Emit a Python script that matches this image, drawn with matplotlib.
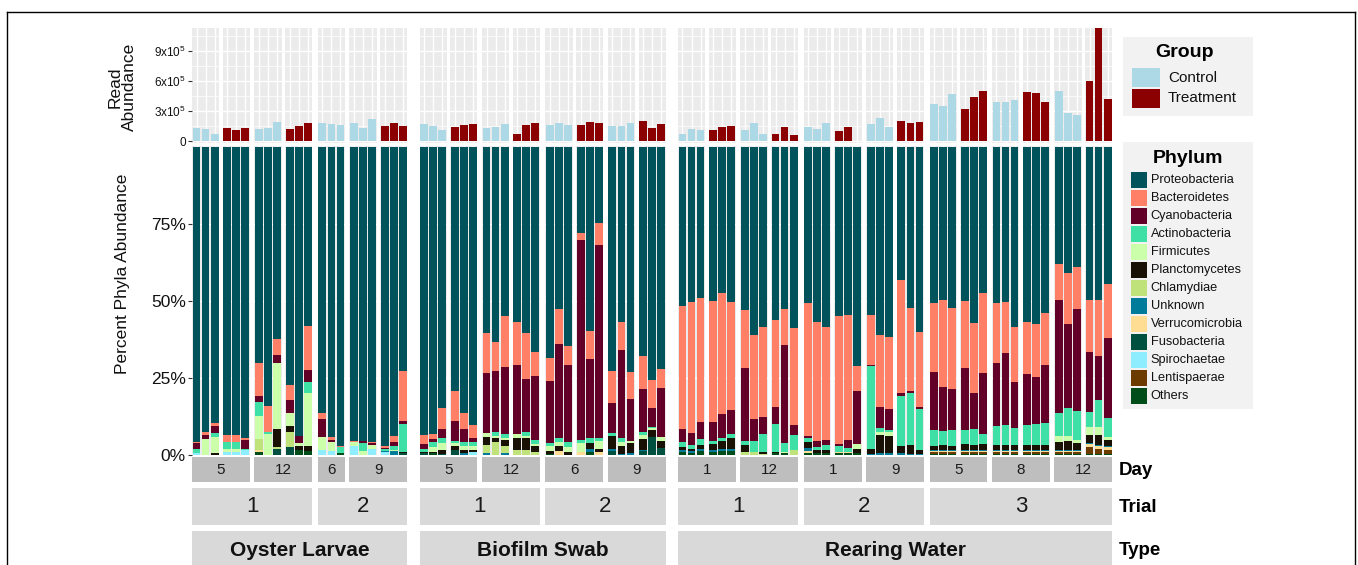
import matplotlib
matplotlib.use('Agg')
import matplotlib.pyplot as plt
from matplotlib.patches import Rectangle
from matplotlib.lines import Line2D
import numpy as np

plt.rcParams['font.family'] = ['Liberation Sans', 'DejaVu Sans']
plt.rcParams['mathtext.fontset'] = 'custom'
plt.rcParams['mathtext.rm'] = 'Liberation Sans'
plt.rcParams['mathtext.it'] = 'Liberation Sans:italic'
plt.rcParams['mathtext.bf'] = 'Liberation Sans:bold'

# ---------------- data ----------------
facet_type = ["Oyster Larvae"] * 4 + ["Biofilm Swab"] * 4 + ["Rearing Water"] * 7
facet_trial = [1, 1, 2, 2, 1, 1, 2, 2, 1, 1, 2, 2, 3, 3, 3]
facet_day = [5, 12, 6, 9, 5, 12, 6, 9, 1, 12, 1, 9, 5, 8, 12]
facet_groups = [["Control", "Treatment"], ["Control", "Treatment"], ["Control"], ["Control", "Treatment"],
                ["Control", "Treatment"], ["Control", "Treatment"], ["Control", "Treatment"], ["Control", "Treatment"],
                ["Control", "Treatment"], ["Control", "Treatment"], ["Control", "Treatment"], ["Control", "Treatment"],
                ["Control", "Treatment"], ["Control", "Treatment"], ["Control", "Treatment"]]
reps_per_group = 3

# read abundance (x 10^4)
read_oyster = [12.7, 11.7, 7.0, 13.3, 10.7, 13.3, 12.0, 13.3, 19.0, 12.0, 14.7, 17.7,
               18.0, 16.7, 16.0, 17.7, 13.3, 22.0, 15.0, 17.7, 15.0]
read_biofilm = [17.0, 15.0, 11.0, 14.0, 15.7, 16.7, 13.3, 14.3, 17.3, 6.7, 16.3, 17.7,
                16.3, 18.3, 16.0, 16.3, 18.7, 17.7, 15.3, 15.3, 17.7, 20.0, 13.0, 17.0]
read_water = [7.0, 12.0, 10.7, 11.0, 14.0, 15.0, 11.3, 18.3, 7.0, 7.3, 14.0, 6.3,
              13.7, 12.3, 18.3, 10.0, 14.0, 0.3, 17.3, 22.7, 14.0, 20.3, 18.3, 19.0,
              37.0, 35.0, 47.0, 32.0, 44.0, 50.3, 39.3, 39.3, 41.3, 49.3, 48.0, 39.3,
              50.3, 28.0, 26.0, 60.0, 125.0, 42.0]

# phylum percentages, samples in order: oyster (21), biofilm (24), water (42)
proteobacteria = [96.0, 92.5, 89.7, 93.8, 93.8, 94.6, 70.1, 84.1, 63.0, 77.3, 93.5, 58.2, 86.2, 94.1, 97.2,
                  95.3, 95.3, 95.5, 97.3, 93.8, 72.5,
                  93.4, 92.9, 84.7, 79.2, 86.0, 90.2, 60.4, 63.4, 54.8, 56.8, 60.4, 66.7,
                  68.5, 52.6, 64.5, 27.3, 59.1, 24.3, 72.6, 56.6, 73.1, 67.5, 75.1, 71.6,
                  51.5, 49.9, 48.8, 49.8, 47.2, 49.9, 52.6, 60.7, 58.2, 55.8, 52.1, 58.5,
                  50.3, 56.3, 57.8, 54.4, 54.2, 70.7, 54.0, 60.7, 61.2, 43.2, 51.9, 60.0,
                  50.3, 49.0, 51.7, 49.5, 56.6, 46.8, 50.3, 50.1, 58.2, 56.8, 57.2, 53.5,
                  37.6, 40.3, 38.7, 49.5, 49.3, 44.4]
bacteroidetes = [0.3, 1.1, 0.8, 2.1, 2.1, 0.5, 10.6, 8.2, 5.2, 4.7, 0.0, 14.1, 1.8, 0.8, 0.3,
                 0.5, 0.0, 0.5, 0.5, 2.1, 16.5,
                 2.9, 1.8, 6.6, 9.7, 5.4, 4.1, 13.0, 9.5, 16.5, 14.1, 14.9, 7.6,
                 7.4, 11.3, 6.2, 2.4, 9.1, 7.1, 10.6, 9.1, 8.8, 10.9, 9.0, 6.0,
                 39.7, 42.4, 40.0, 39.0, 39.2, 35.0, 18.9, 27.0, 28.9, 28.0, 11.6, 31.2,
                 42.9, 38.4, 36.6, 41.1, 40.0, 8.3, 16.0, 23.3, 23.3, 36.8, 26.5, 24.7,
                 22.3, 27.9, 26.0, 21.4, 22.2, 26.0, 19.5, 16.5, 17.6, 16.9, 17.3, 17.1,
                 11.8, 16.2, 13.3, 17.0, 18.1, 17.3]
cyanobacteria = [1.8, 1.2, 2.5, 0.0, 0.0, 2.9, 2.2, 0.0, 2.6, 4.3, 2.4, 4.0, 6.0, 0.5, 0.0,
                 0.0, 0.8, 0.5, 0.3, 1.1, 0.8,
                 1.7, 0.9, 3.1, 6.3, 4.0, 1.3, 19.5, 19.7, 22.0, 22.5, 17.3, 21.0,
                 20.2, 30.6, 25.2, 64.0, 25.4, 62.4, 9.7, 28.7, 13.4, 13.7, 6.0, 16.0,
                 4.3, 3.8, 5.3, 6.2, 7.6, 7.9, 23.3, 7.3, 5.5, 5.7, 31.7, 3.1,
                 0.8, 1.8, 1.6, 0.9, 2.6, 17.1, 0.5, 6.7, 6.5, 0.9, 0.9, 0.5,
                 18.8, 14.1, 13.3, 20.0, 11.7, 19.5, 20.6, 23.3, 14.9, 16.5, 15.0, 18.7,
                 36.4, 26.8, 33.0, 19.3, 14.3, 26.0]
actinobacteria = [1.4, 0.0, 1.1, 2.2, 2.2, 0.5, 4.5, 0.8, 0.0, 0.0, 0.0, 3.6, 0.0, 0.0, 2.0,
                  0.0, 2.7, 0.0, 0.6, 1.4, 9.0,
                  0.8, 1.6, 1.6, 0.8, 1.6, 1.4, 0.0, 1.2, 1.1, 0.0, 1.3, 1.1,
                  1.2, 1.2, 1.5, 0.8, 1.4, 1.0, 1.1, 1.0, 0.0, 1.0, 0.5, 0.0,
                  1.6, 1.4, 1.9, 0.8, 0.9, 1.1, 1.3, 3.6, 6.0, 9.0, 2.9, 5.1,
                  1.3, 1.1, 1.4, 1.8, 1.4, 0.0, 26.5, 1.1, 0.8, 16.2, 16.8, 13.2,
                  5.0, 4.5, 4.9, 4.5, 5.1, 3.2, 6.1, 6.6, 5.6, 6.5, 6.8, 7.0,
                  7.6, 9.2, 9.5, 5.0, 8.7, 6.2]
firmicutes = [0.0, 5.2, 5.4, 1.2, 1.2, 0.0, 7.3, 6.7, 21.5, 4.3, 1.0, 17.3, 4.3, 3.2, 0.0,
              1.1, 1.1, 1.4, 0.0, 0.5, 0.0,
              0.0, 1.6, 2.4, 0.9, 1.1, 1.1, 1.2, 0.8, 0.8, 1.2, 0.5, 0.6,
              1.6, 1.4, 1.8, 3.0, 0.0, 2.7, 0.0, 1.4, 0.9, 1.4, 0.5, 1.3,
              0.0, 0.0, 0.0, 0.0, 0.0, 0.0, 0.0, 0.0, 0.0, 0.0, 0.5, 0.0,
              0.0, 0.0, 0.0, 0.0, 0.0, 1.4, 0.0, 1.1, 1.1, 0.0, 0.0, 0.0,
              0.0, 0.0, 0.0, 0.0, 0.0, 0.0, 0.0, 0.0, 0.0, 0.0, 0.0, 0.0,
              1.9, 1.6, 0.8, 2.6, 2.5, 0.8]
planctomycetes = [0.0, 0.0, 0.5, 0.0, 0.0, 0.0, 0.0, 0.0, 5.8, 1.8, 1.3, 1.6, 0.0, 0.0, 0.0,
                  0.0, 0.0, 0.0, 0.0, 0.0, 0.5,
                  0.5, 0.5, 1.1, 1.5, 1.1, 0.9, 2.7, 1.1, 1.9, 3.8, 4.0, 2.2,
                  0.8, 1.8, 0.8, 0.0, 2.2, 0.9, 4.1, 2.6, 3.2, 3.5, 2.5, 2.2,
                  0.8, 0.8, 1.4, 1.9, 2.7, 3.6, 2.5, 0.0, 0.4, 0.4, 0.0, 0.0,
                  1.9, 0.9, 1.1, 0.0, 0.0, 1.5, 1.6, 5.7, 5.7, 2.4, 2.6, 1.3,
                  1.3, 1.6, 1.3, 1.8, 1.6, 1.9, 1.5, 1.5, 1.5, 1.6, 1.6, 1.6,
                  2.4, 2.7, 2.2, 2.4, 3.2, 2.0]
chlamydiae = [0.0, 0.0, 0.0, 0.0, 0.0, 0.0, 3.8, 0.0, 0.9, 4.9, 0.0, 0.0, 0.0, 0.0, 0.0,
              0.0, 0.0, 0.0, 0.0, 0.0, 0.0,
              0.0, 0.0, 0.0, 0.0, 0.0, 0.0, 2.7, 4.3, 2.4, 1.6, 1.6, 0.8,
              0.0, 0.0, 0.0, 0.0, 0.0, 0.0, 0.0, 0.0, 0.0, 0.0, 0.0, 0.0,
              0.0, 0.0, 0.0, 0.0, 0.0, 0.0, 0.8, 0.8, 0.4, 0.0, 0.0, 1.4,
              0.0, 0.0, 0.0, 0.0, 0.0, 0.0, 0.0, 0.0, 0.0, 0.0, 0.0, 0.0,
              0.0, 0.0, 0.0, 0.0, 0.0, 0.0, 0.0, 0.0, 0.0, 0.0, 0.0, 0.0,
              0.0, 0.0, 0.0, 0.0, 0.0, 0.0]
unknown = [0.0, 0.0, 0.0, 0.0, 0.0, 0.0, 0.0, 0.0, 0.0, 0.0, 0.0, 0.0, 0.0, 0.0, 0.0,
           0.0, 0.0, 0.0, 0.5, 1.1, 0.0,
           0.0, 0.0, 0.0, 0.0, 0.5, 0.0, 0.5, 0.0, 0.5, 0.0, 0.0, 0.0,
           0.0, 0.0, 0.0, 0.0, 0.9, 0.0, 0.8, 0.3, 0.5, 0.5, 0.0, 0.0,
           0.6, 0.5, 0.8, 0.9, 0.8, 0.8, 0.0, 0.0, 0.0, 0.0, 0.0, 0.0,
           0.8, 0.0, 0.0, 0.0, 0.0, 0.0, 0.4, 0.7, 0.5, 0.5, 0.4, 0.4,
           0.5, 0.5, 0.5, 0.5, 0.5, 0.5, 0.5, 0.5, 0.5, 0.5, 0.5, 0.5,
           0.5, 0.5, 0.5, 0.5, 0.5, 0.5]
verrucomicrobia = [0.0, 0.0, 0.0, 0.0, 0.0, 0.0, 0.5, 0.0, 0.0, 0.0, 0.0, 0.0, 0.0, 0.0, 0.0,
                   0.0, 0.0, 0.0, 0.0, 0.0, 0.0,
                   0.0, 0.0, 0.0, 0.0, 0.0, 0.0, 0.0, 0.0, 0.0, 0.0, 0.0, 0.0,
                   0.0, 1.1, 0.0, 0.8, 0.0, 0.8, 0.0, 0.0, 0.0, 0.0, 0.0, 0.0,
                   0.0, 0.0, 0.0, 0.0, 0.0, 0.0, 0.0, 0.0, 0.0, 0.0, 0.0, 0.0,
                   0.8, 0.0, 0.0, 0.4, 0.4, 0.0, 0.0, 0.0, 0.0, 0.0, 0.0, 0.0,
                   0.3, 0.3, 0.3, 0.3, 0.3, 0.3, 0.3, 0.3, 0.3, 0.3, 0.3, 0.3,
                   0.3, 0.3, 0.3, 0.8, 0.8, 1.0]
fusobacteria = [0.0, 0.0, 0.0, 0.0, 0.0, 0.0, 0.0, 0.0, 1.8, 2.5, 0.0, 0.0, 0.0, 0.0, 0.0,
                0.0, 0.0, 0.0, 0.0, 0.0, 0.5,
                0.5, 0.0, 0.3, 1.4, 0.0, 0.0, 0.0, 0.0, 0.0, 0.0, 0.0, 0.0,
                0.0, 0.0, 0.0, 0.0, 0.0, 0.0, 1.1, 0.0, 0.0, 1.1, 5.6, 2.2,
                0.0, 0.0, 0.0, 0.0, 0.0, 0.0, 0.0, 0.0, 0.0, 0.0, 0.0, 0.0,
                0.0, 0.0, 0.0, 0.0, 0.0, 0.0, 0.0, 0.0, 0.0, 0.0, 0.0, 0.0,
                0.0, 0.0, 0.0, 0.0, 0.0, 0.0, 0.0, 0.0, 0.0, 0.0, 0.0, 0.0,
                0.0, 0.0, 0.0, 0.0, 0.0, 0.0]
spirochaetae = [0.5, 0.0, 0.0, 0.8, 0.8, 1.4, 0.0, 0.0, 0.0, 0.0, 0.0, 0.0, 1.4, 1.1, 0.0,
                2.9, 0.0, 1.8, 0.8, 0.0, 0.0,
                0.0, 0.0, 0.0, 0.0, 0.0, 0.8, 0.0, 0.0, 0.0, 0.0, 0.0, 0.0,
                0.0, 0.0, 0.0, 0.0, 0.0, 0.0, 0.0, 0.0, 0.0, 0.0, 0.0, 0.0,
                0.0, 0.0, 0.0, 0.0, 0.0, 0.0, 0.0, 0.0, 0.0, 0.0, 0.0, 0.0,
                0.0, 0.0, 0.0, 0.0, 0.0, 0.0, 0.0, 0.0, 0.0, 0.0, 0.0, 0.0,
                0.0, 0.0, 0.0, 0.0, 0.0, 0.0, 0.0, 0.0, 0.0, 0.0, 0.0, 0.0,
                0.0, 0.0, 0.0, 0.0, 0.0, 0.0]
lentisphaerae = [0.0, 0.0, 0.0, 0.0, 0.0, 0.0, 0.0, 0.0, 0.0, 0.0, 0.0, 0.0, 0.0, 0.0, 0.0,
                 0.0, 0.0, 0.0, 0.0, 0.0, 0.0,
                 0.0, 0.0, 0.0, 0.0, 0.0, 0.0, 0.0, 0.0, 0.0, 0.0, 0.0, 0.0,
                 0.0, 0.0, 0.0, 0.0, 0.0, 0.0, 0.0, 0.0, 0.0, 0.0, 0.0, 0.0,
                 0.0, 0.0, 0.0, 0.0, 0.0, 0.0, 0.0, 0.0, 0.0, 0.0, 0.0, 0.0,
                 0.0, 0.0, 0.0, 0.0, 0.0, 0.0, 0.0, 0.0, 0.0, 0.0, 0.0, 0.0,
                 0.4, 0.4, 0.4, 0.4, 0.4, 0.4, 0.4, 0.4, 0.4, 0.4, 0.4, 0.4,
                 0.4, 0.4, 0.4, 2.2, 1.5, 1.0]
others = [0.0, 0.0, 0.0, 0.0, 0.0, 0.0, 0.9, 0.0, 0.0, 0.0, 1.4, 1.1, 0.0, 0.0, 0.5,
          0.0, 0.0, 0.0, 0.0, 0.0, 0.0,
          0.0, 0.5, 0.0, 0.0, 0.0, 0.0, 0.0, 0.0, 0.0, 0.0, 0.0, 0.0,
          0.3, 0.0, 0.0, 0.0, 0.8, 0.0, 0.0, 0.0, 0.0, 0.0, 0.0, 0.0,
          1.0, 0.6, 1.1, 0.8, 1.1, 1.1, 0.0, 0.0, 0.0, 0.5, 0.5, 0.0,
          0.5, 0.5, 0.5, 0.5, 0.5, 0.5, 0.0, 0.0, 0.0, 0.0, 0.0, 0.0,
          0.4, 0.4, 0.4, 0.4, 0.4, 0.4, 0.4, 0.4, 0.4, 0.4, 0.4, 0.4,
          0.4, 0.4, 0.4, 0.4, 0.4, 0.4]

phylum_names = ["Proteobacteria", "Bacteroidetes", "Cyanobacteria", "Actinobacteria", "Firmicutes",
                "Planctomycetes", "Chlamydiae", "Unknown", "Verrucomicrobia", "Fusobacteria",
                "Spirochaetae", "Lentispaerae", "Others"]
phylum_values = [proteobacteria, bacteroidetes, cyanobacteria, actinobacteria, firmicutes,
                 planctomycetes, chlamydiae, unknown, verrucomicrobia, fusobacteria,
                 spirochaetae, lentisphaerae, others]
phylum_colors = ["#00535A", "#FF8066", "#620028", "#3FE0A6", "#CCFFAA", "#1A1105", "#BFE37A",
                 "#007B9A", "#FFDD92", "#005040", "#8EEEFF", "#6C3B00", "#004D1A"]
group_colors = {"Control": "#ADD8E6", "Treatment": "#8B0000"}

read_ticks = [0, 3e5, 6e5, 9e5]
read_minor = [1.5e5, 4.5e5, 7.5e5, 10.5e5]
read_labels = ["0", r"3x10$^{5}$", r"6x10$^{5}$", r"9x10$^{5}$"]
pct_ticks = [0, 0.25, 0.5, 0.75]
pct_labels = ["0%", "25%", "50%", "75%"]

reads = np.array(read_oyster + read_biofilm + read_water) * 1e4
pvals = [np.array(v, dtype=float) for v in phylum_values]
for v in pvals:
    assert len(v) == len(reads), len(v)
totals = np.sum(pvals, axis=0)

# ---------------- layout (pixels) ----------------
W, H = 1358, 565
fig = plt.figure(figsize=(W / 100, H / 100), dpi=100)


def rect_ax(x0, x1, y0, y1):
    return fig.add_axes([x0 / W, 1 - y1 / H, (x1 - x0) / W, (y1 - y0) / H])


def frect(x0, x1, y0, y1, color):
    fig.add_artist(Rectangle((x0 / W, 1 - y1 / H), (x1 - x0) / W, (y1 - y0) / H,
                             transform=fig.transFigure, facecolor=color, edgecolor='none'))


def ftext(x, y, s, **kw):
    fig.text(x / W, 1 - y / H, s, **kw)


PANEL_W, GROUP_GAP, DAY_GAP, TRIAL_GAP, TYPE_GAP = 27.2, 3.5, 4.5, 5.5, 12.2
TOP_Y0, TOP_Y1 = 28, 143
BOT_Y0, BOT_Y1 = 146, 456
BAR_W = 0.86

cursor = 192.0
facet_span = []
sample = 0
first = True
for fi in range(len(facet_day)):
    if fi > 0:
        if facet_type[fi] != facet_type[fi - 1]:
            cursor += TYPE_GAP
        elif facet_trial[fi] != facet_trial[fi - 1]:
            cursor += TRIAL_GAP
        else:
            cursor += DAY_GAP
    fstart = cursor
    for gi, g in enumerate(facet_groups[fi]):
        if gi > 0:
            cursor += GROUP_GAP
        x0, x1 = cursor, cursor + PANEL_W
        idx = np.arange(sample, sample + reps_per_group)
        sample += reps_per_group
        xs = np.arange(reps_per_group)

        # read abundance
        axt = rect_ax(x0, x1, TOP_Y0, TOP_Y1)
        axt.set_facecolor('#EBEBEB')
        axt.set_axisbelow(True)
        axt.bar(xs, reads[idx], width=BAR_W, color=group_colors[g], linewidth=0, zorder=2)
        axt.set_xlim(-0.5, reps_per_group - 0.5)
        axt.set_ylim(-2e4, 1.13e6)
        axt.set_xticks(xs)
        axt.set_yticks(read_ticks)
        axt.set_yticks(read_minor, minor=True)
        axt.grid(True, which='major', color='white', linewidth=1.0)
        axt.grid(True, which='minor', axis='y', color='white', linewidth=0.5)
        axt.tick_params(axis='x', length=0, labelbottom=False)
        axt.tick_params(axis='y', which='minor', length=0)
        for sp in axt.spines.values():
            sp.set_visible(False)

        # percent abundance
        axb = rect_ax(x0, x1, BOT_Y0, BOT_Y1)
        axb.set_facecolor('#EBEBEB')
        axb.set_axisbelow(True)
        bottom = np.zeros(reps_per_group)
        for vals, col in reversed(list(zip(pvals, phylum_colors))):
            frac = vals[idx] / totals[idx]
            axb.bar(xs, frac, bottom=bottom, width=BAR_W, color=col, linewidth=0, zorder=2)
            bottom += frac
        axb.set_xlim(-0.5, reps_per_group - 0.5)
        axb.set_ylim(-0.004, 1.004)
        axb.set_xticks(xs)
        axb.set_yticks(pct_ticks)
        axb.grid(True, color='white', linewidth=1.0)
        axb.tick_params(axis='x', length=0, labelbottom=False)
        for sp in axb.spines.values():
            sp.set_visible(False)

        if first:
            axt.set_yticklabels(read_labels, fontsize=8.5, color='#111111')
            axt.tick_params(axis='y', which='major', length=3, width=0.8, color='#333333', pad=1.5)
            axb.set_yticklabels(pct_labels, fontsize=12.5, color='#111111')
            axb.tick_params(axis='y', length=3, width=0.8, color='#333333', pad=1.5)
            first = False
        else:
            axt.tick_params(axis='y', which='both', length=0, labelleft=False)
            axb.tick_params(axis='y', length=0, labelleft=False)
        cursor = x1
    facet_span.append((fstart, cursor))

# day strips
for fi, (a, b) in enumerate(facet_span):
    frect(a, b, 457, 482, '#BEBEBE')
    ftext((a + b) / 2, 470.5, str(facet_day[fi]), ha='center', va='center', fontsize=11, color='#1A1A1A')

# trial strips
start = 0
for fi in range(1, len(facet_day) + 1):
    if fi == len(facet_day) or facet_type[fi] != facet_type[start] or facet_trial[fi] != facet_trial[start]:
        a, b = facet_span[start][0], facet_span[fi - 1][1]
        frect(a, b, 488, 525, '#D9D9D9')
        ftext((a + b) / 2, 507, str(facet_trial[start]), ha='center', va='center', fontsize=16, color='#1A1A1A')
        start = fi

# type strips
start = 0
for fi in range(1, len(facet_day) + 1):
    if fi == len(facet_day) or facet_type[fi] != facet_type[start]:
        a, b = facet_span[start][0], facet_span[fi - 1][1]
        frect(a, b, 531, 580, '#D9D9D9')
        ftext((a + b) / 2, 550.5, facet_type[start], ha='center', va='center', fontsize=15,
              fontweight='bold', color='#111111')
        start = fi

# strip row labels
ftext(1119, 470.5, "Day", ha='left', va='center', fontsize=13.5, fontweight='bold')
ftext(1119, 507, "Trial", ha='left', va='center', fontsize=13.5, fontweight='bold')
ftext(1119, 550.5, "Type", ha='left', va='center', fontsize=13.5, fontweight='bold')

# axis titles
ftext(122, 87, "Read\nAbundance", rotation=90, ha='center', va='center', fontsize=12.5,
      linespacing=0.95, color='#111111')
ftext(122, 274, "Percent Phyla Abundance", rotation=90, ha='center', va='center', fontsize=12.5,
      color='#111111')

# legends
frect(1123, 1253, 37, 116, '#F2F2F2')
ftext(1185, 52.5, "Group", ha='center', va='center', fontsize=14, fontweight='bold')
for i, g in enumerate(["Control", "Treatment"]):
    yk = 68 + i * 21
    frect(1132, 1160, yk, yk + 19, group_colors[g])
    ftext(1168, yk + 9.5, g, ha='left', va='center', fontsize=11, color='#111111')

frect(1123, 1253, 142, 409, '#F2F2F2')
ftext(1188, 158, "Phylum", ha='center', va='center', fontsize=14, fontweight='bold')
for i, (nm, col) in enumerate(zip(phylum_names, phylum_colors)):
    yc = 180 + i * 17.97
    frect(1130.5, 1146.5, yc - 8, yc + 8, col)
    ftext(1150.5, yc, nm, ha='left', va='center', fontsize=9.2, color='#111111')

# figure frame
for xs_, ys_ in [([7, 7], [12, 565]), ([7, 1355], [12, 12]), ([1355, 1355], [12, 565])]:
    fig.add_artist(Line2D([x / W for x in xs_], [1 - y / H for y in ys_], color='black',
                          linewidth=1.0, transform=fig.transFigure))

fig.savefig('out.png', dpi=100)
